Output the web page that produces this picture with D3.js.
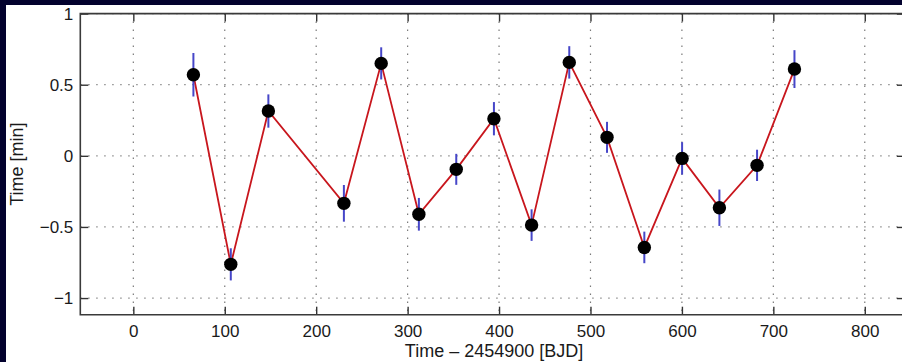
<!DOCTYPE html>
<html>
<head>
<meta charset="utf-8">
<script src="https://cdn.jsdelivr.net/npm/d3@7"></script>
<style>
  html, body { margin: 0; padding: 0; background: #03022e; }
  svg { display: block; }
  text { font-family: "Liberation Sans", Arial, Helvetica, sans-serif; fill: #1a1a1a; }
</style>
</head>
<body>
<svg id="chart" width="902" height="362"></svg>
<script>
// Transit times (BJD - 2454900) and timing residuals in minutes
const epochTimes = [65.7, 106.6, 147.7, 230.3, 271.1, 312.3, 353.2, 394.4,
                    435.6, 476.8, 518.1, 558.9, 600.2, 641.0, 682.2, 723.1];
const residuals  = [0.570, -0.763, 0.315, -0.334, 0.650, -0.411, -0.095, 0.261,
                    -0.487, 0.657, 0.130, -0.644, -0.018, -0.365, -0.067, 0.610];
const errors     = [0.153, 0.113, 0.117, 0.129, 0.113, 0.115, 0.109, 0.117,
                    0.111, 0.114, 0.109, 0.111, 0.114, 0.128, 0.110, 0.133];
const xTicks = [0, 100, 200, 300, 400, 500, 600, 700, 800];
const yTicks = [-1, -0.5, 0, 0.5, 1];
const yTickLabels = ["\u22121", "\u22120.5", "0", "0.5", "1"];
const xLabel = "Time \u2013 2454900 [BJD]";
const yLabel = "Time [min]";

const svg = d3.select("#chart");

// white figure panel
svg.append("rect").attr("x", 6).attr("y", 5).attr("width", 896).attr("height", 357)
   .attr("fill", "#ffffff");

const plotLeft = 80.3, plotRight = 905, plotTop = 13.6, plotBottom = 314.7;

const x = d3.scaleLinear().domain([-58, 844]).range([plotLeft, plotRight]);
const y = d3.scaleLinear().domain([-1.117, 1]).range([plotBottom, plotTop]);

const plot = svg.append("g");

// dotted grid
plot.append("g").selectAll("line").data(xTicks).join("line")
  .attr("x1", d => x(d)).attr("x2", d => x(d))
  .attr("y1", plotTop).attr("y2", plotBottom)
  .attr("stroke", "#7a7a7a").attr("stroke-width", 1.2)
  .attr("stroke-dasharray", "1.3,6.7");
plot.append("g").selectAll("line").data(yTicks).join("line")
  .attr("y1", d => y(d)).attr("y2", d => y(d))
  .attr("x1", plotLeft).attr("x2", plotRight)
  .attr("stroke", "#7a7a7a").attr("stroke-width", 1.2)
  .attr("stroke-dasharray", "1.3,6.7");

// axes with inward ticks on all four sides
function styleAxis(g) {
  g.select(".domain").remove();
  g.selectAll(".tick line").attr("stroke", "#333").attr("stroke-width", 1.4);
  g.selectAll(".tick text").style("font-size", "17px").attr("fill", "#1a1a1a");
}
const gx = svg.append("g").attr("transform", `translate(0,${plotBottom})`)
  .call(d3.axisBottom(x).tickValues(xTicks).tickSize(-8).tickPadding(10).tickFormat(d3.format("d")))
  .call(styleAxis);
gx.selectAll(".tick text").attr("y", 22.8).attr("dy", null);

svg.append("g").attr("transform", `translate(0,${plotTop})`)
  .call(d3.axisTop(x).tickValues(xTicks).tickSize(-8).tickFormat(""))
  .call(styleAxis);

svg.append("g").attr("transform", `translate(${plotLeft},0)`)
  .call(d3.axisLeft(y).tickValues(yTicks).tickSize(-8).tickPadding(7)
        .tickFormat((d, i) => yTickLabels[i]))
  .call(styleAxis);

svg.append("g").attr("transform", `translate(${plotRight},0)`)
  .call(d3.axisRight(y).tickValues(yTicks).tickSize(-8).tickFormat(""))
  .call(styleAxis);

// axes box
svg.append("path")
  .attr("d", `M${plotRight},${plotTop}H${plotLeft}V${plotBottom}H${plotRight}`)
  .attr("fill", "none").attr("stroke", "#3a3a3a").attr("stroke-width", 1.6);

// connecting line
const pts = epochTimes.map((t, i) => ({ t, v: residuals[i], e: errors[i] }));
plot.append("path").datum(pts)
  .attr("d", d3.line().x(d => x(d.t)).y(d => y(d.v)))
  .attr("fill", "none").attr("stroke", "#c8161d").attr("stroke-width", 1.8);

// error bars
plot.append("g").selectAll("line").data(pts).join("line")
  .attr("x1", d => x(d.t)).attr("x2", d => x(d.t))
  .attr("y1", d => y(d.v - d.e)).attr("y2", d => y(d.v + d.e))
  .attr("stroke", "#4646c8").attr("stroke-width", 2);

// markers
plot.append("g").selectAll("circle").data(pts).join("circle")
  .attr("cx", d => x(d.t)).attr("cy", d => y(d.v)).attr("r", 6.7)
  .attr("fill", "#000");

// axis titles
svg.append("text").attr("x", (x(0) + x(800)) / 2 - 5).attr("y", 357)
  .attr("text-anchor", "middle").style("font-size", "18px").text(xLabel);
svg.append("text")
  .attr("transform", `translate(23,${(plotTop + plotBottom) / 2}) rotate(-90)`)
  .attr("text-anchor", "middle").style("font-size", "18px").text(yLabel);
</script>
</body>
</html>
